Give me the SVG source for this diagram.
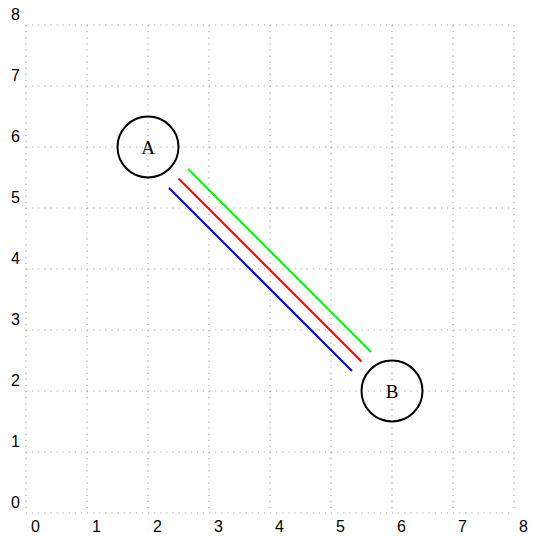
<svg xmlns="http://www.w3.org/2000/svg" width="540" height="540" viewBox="0 0 540 540">
<style>
.grid{stroke:#a6a6a6;stroke-width:1.2;stroke-dasharray:1.2 4.9;fill:none}
.ax{font-family:"Liberation Sans",Arial,sans-serif;font-size:16px;fill:#000}
.node{fill:none;stroke:#000;stroke-width:2}
.lbl{font-family:"Liberation Serif","DejaVu Serif",serif;font-size:19px;fill:#000;text-anchor:middle}
.edge{stroke-width:2;fill:none}
</style>
<rect width="540" height="540" fill="#fff"/>
<g id="grid">
<path class="grid" d="M26 25V513M87 25V513M148 25V513M209 25V513M270 25V513M331 25V513M392 25V513M453 25V513M514 25V513"/>
<path class="grid" d="M26 25H514M26 86H514M26 147H514M26 208H514M26 269H514M26 330H514M26 391H514M26 452H514M26 513H514"/>
</g>
<g id="xlabels" class="ax">
<text x="31" y="532">0</text><text x="92" y="532">1</text><text x="153" y="532">2</text><text x="214" y="532">3</text><text x="275" y="532">4</text><text x="336" y="532">5</text><text x="397" y="532">6</text><text x="458" y="532">7</text><text x="519" y="532">8</text>
</g>
<g id="ylabels" class="ax" text-anchor="end">
<text x="20" y="508">0</text><text x="20" y="447">1</text><text x="20" y="386">2</text><text x="20" y="325">3</text><text x="20" y="264">4</text><text x="20" y="203">5</text><text x="20" y="142">6</text><text x="20" y="81">7</text><text x="20" y="20">8</text>
</g>
<g id="connectors">
<line class="edge" stroke="#00ff00" x1="188" y1="169" x2="371" y2="352"/>
<line class="edge" stroke="#ff0000" x1="178.5" y1="178.5" x2="361.5" y2="361.5"/>
<line class="edge" stroke="#0000ff" x1="169" y1="188" x2="352" y2="371"/>
</g>
<g id="A">
<circle class="node" cx="148" cy="147" r="30.5"/>
<text class="lbl" x="148" y="154">A</text>
</g>
<g id="B">
<circle class="node" cx="392" cy="391" r="30.5"/>
<text class="lbl" x="392" y="398">B</text>
</g>
</svg>
